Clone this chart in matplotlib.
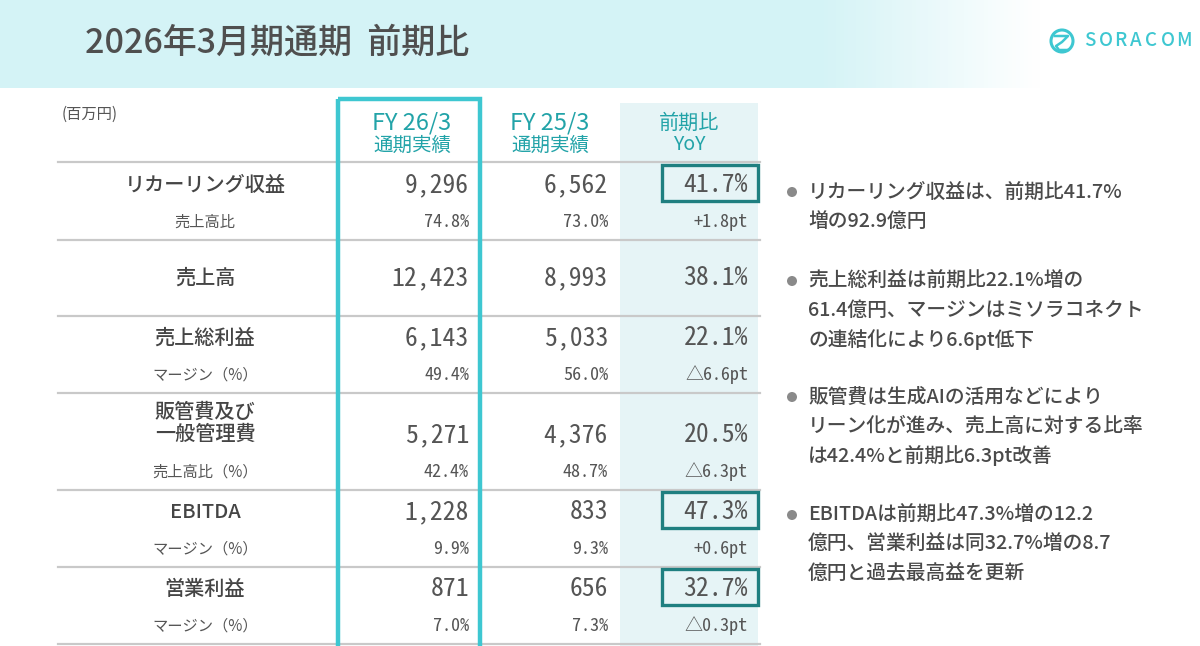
import numpy as np
import matplotlib.pyplot as plt
from matplotlib.patches import Rectangle, Circle

JP = ['Noto Sans CJK JP', 'DejaVu Sans']
NUM = ['Noto Sans Mono CJK JP', 'Noto Sans CJK JP', 'DejaVu Sans']

title = '2026年3月期通期  前期比'
unit_label = '(百万円)'
col_heads = [('FY 26/3', '通期実績'), ('FY 25/3', '通期実績'), ('前期比', 'YoY')]

labels = ['リカーリング収益', '売上高', '売上総利益', '販管費及び\n一般管理費', 'EBITDA', '営業利益']
sub_labels = ['売上高比', None, 'マージン（%）', '売上高比（%）', 'マージン（%）', 'マージン（%）']
fy26 = [9296, 12423, 6143, 5271, 1228, 871]
fy25 = [6562, 8993, 5033, 4376, 833, 656]
yoy = [41.7, 38.1, 22.1, 20.5, 47.3, 32.7]
sub26 = [74.8, None, 49.4, 42.4, 9.9, 7.0]
sub25 = [73.0, None, 56.0, 48.7, 9.3, 7.3]
sub_pt = [1.8, None, -6.6, -6.3, 0.6, -0.3]
boxed = [True, False, False, False, True, True]

notes = [
    ['リカーリング収益は、前期比41.7%', '増の92.9億円'],
    ['売上総利益は前期比22.1%増の', '61.4億円、マージンはミソラコネクト', 'の連結化により6.6pt低下'],
    ['販管費は生成AIの活用などにより', 'リーン化が進み、売上高に対する比率', 'は42.4%と前期比6.3pt改善'],
    ['EBITDAは前期比47.3%増の12.2', '億円、営業利益は同32.7%増の8.7', '億円と過去最高益を更新'],
]

TEAL = '#22a3a8'
CYAN = '#3ec7d1'
DARK = '#1f7f80'
TXT = '#555555'

fig = plt.figure(figsize=(12, 6.46), dpi=100)
ax = fig.add_axes([0, 0, 1, 1])

# header band with fade to white on the right
grad = np.ones((2, 300, 3))
t = np.clip((np.linspace(0, 1200, 300) - 820) / 220, 0, 1)
c0 = np.array([0xd4, 0xf3, 0xf6]) / 255
for i in range(3):
    grad[:, :, i] = c0[i] * (1 - t) + 1.0 * t
ax.imshow(grad, extent=(0, 1200, 88, 0), aspect='auto', zorder=0)
ax.set_xlim(0, 1200)
ax.set_ylim(646, 0)
ax.axis('off')

ax.text(85, 43, title, fontsize=24.5, fontweight=500, color='#4f4f4f',
        family=JP, va='center', ha='left')

# logo
ax.add_patch(Circle((1062, 41), 11, fill=False, ec=CYAN, lw=2.2))
ax.plot([1055, 1068, 1062, 1056, 1059, 1068], [36, 36, 42, 46, 50, 50], color=CYAN, lw=1.8)
for k, ch in enumerate('SORACOM'):
    ax.text(1084 + k * 15.3, 41, ch, fontsize=13.5, color=CYAN, family=JP,
            va='center', ha='left', fontweight=500)

ax.text(62, 114, unit_label, fontsize=11, color='#555555', family=JP, va='center')

# YoY column background
ax.add_patch(Rectangle((620, 103), 138, 560, fc='#e6f4f6', ec='none', zorder=1))

col_x = [412, 550, 689]
for cx, (h1, h2) in zip(col_x, col_heads):
    fs = 17 if h1.startswith('FY') else 14.5
    ax.text(cx, 123, h1, fontsize=fs, color=TEAL, family=JP, ha='center', va='center', zorder=3)
    ax.text(cx, 145, h2, fontsize=14, color=TEAL, family=JP, ha='center', va='center', zorder=3)

bounds = [162, 240, 316, 393, 490, 567, 644]
for yb in bounds:
    ax.plot([58, 760], [yb, yb], color='#c9c9c9', lw=1.6, zorder=2)

right_x = [469, 608, 748]
for i in range(len(labels)):
    top, bot = bounds[i], bounds[i + 1]
    if sub_labels[i] is None:
        ym = (top + bot) / 2
    else:
        ym = bot - 55
    ys = bot - 18
    ly = ym - 12 if '\n' in labels[i] else ym
    ax.text(205, ly, labels[i], fontsize=14.5, color='#454545', family=JP, fontweight=500,
            ha='center', va='center', linespacing=1.15, zorder=3)
    vals = [f'{fy26[i]:,}', f'{fy25[i]:,}', f'{yoy[i]:.1f}%']
    for rx, v in zip(right_x, vals):
        ax.text(rx, ym, v, fontsize=18.5, color=TXT, family=NUM, ha='right', va='center', zorder=4)
    if sub_labels[i] is not None:
        ax.text(205, ys, sub_labels[i], fontsize=11, color='#555555', family=JP,
                ha='center', va='center', zorder=3)
        p = sub_pt[i]
        pt = f'+{p:.1f}pt' if p >= 0 else f'△{-p:.1f}pt'
        svals = [f'{sub26[i]:.1f}%', f'{sub25[i]:.1f}%', pt]
        for rx, v in zip(right_x, svals):
            ax.text(rx, ys, v, fontsize=13, color=TXT, family=NUM, ha='right', va='center', zorder=4)
    if boxed[i]:
        ax.add_patch(Rectangle((662, ym - 20), 96, 36, fill=False, ec=DARK, lw=2.4, zorder=5))

# FY26 highlight frame
ax.add_patch(Rectangle((338, 99), 142, 560, fill=False, ec=CYAN, lw=3.2, zorder=6))

# right-hand notes
starts = [192, 281, 397, 515]
for y0, block in zip(starts, notes):
    ax.add_patch(Circle((792, y0), 5, fc='#8a8a8a', ec='none'))
    for j, line in enumerate(block):
        ax.text(808, y0 + j * 29.5, line, fontsize=14.2, color='#4a4a4a', family=JP,
                ha='left', va='center', fontweight=500)

fig.savefig('out.png', dpi=100)
